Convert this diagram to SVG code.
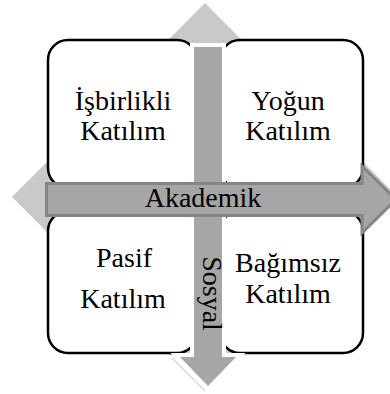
<svg xmlns="http://www.w3.org/2000/svg" width="390" height="394" viewBox="0 0 390 394">
  <style>
    .box { fill: #ffffff; stroke: #000000; stroke-width: 2.5; }
    .lbl { font-family: "Liberation Serif", "Times New Roman", serif; font-size: 28px; fill: #000000; text-anchor: middle; }
    .arrow { fill: #a6a6a6; }
  </style>

  <!-- background diamond -->
  <g id="background">
    <polygon points="205,3 398,197 240,355 170,355 12,197" fill="#c9c9c9"/>
    <line x1="172" y1="358" x2="205" y2="391" stroke="#d6d6d6" stroke-width="1.2"/>
  </g>

  <!-- quadrants -->
  <g id="node-isbirlikli">
    <rect class="box" x="48" y="40" width="149" height="148" rx="20" ry="20"/>
    <text class="lbl" x="123" y="110">İşbirlikli</text>
    <text class="lbl" x="123" y="140">Katılım</text>
  </g>
  <g id="node-yogun">
    <rect class="box" x="220" y="40" width="143" height="148" rx="20" ry="20"/>
    <text class="lbl" x="288" y="110">Yoğun</text>
    <text class="lbl" x="288" y="140">Katılım</text>
  </g>
  <g id="node-pasif">
    <rect class="box" x="48" y="211" width="149" height="142" rx="20" ry="20"/>
    <text class="lbl" x="124" y="267">Pasif</text>
    <text class="lbl" x="123" y="308">Katılım</text>
  </g>
  <g id="node-bagimsiz">
    <rect class="box" x="220" y="211" width="143" height="142" rx="20" ry="20"/>
    <text class="lbl" x="288" y="272">Bağımsız</text>
    <text class="lbl" x="288" y="303">Katılım</text>
  </g>

  <!-- axis arrows -->
  <g id="connectors">
    <g id="axis-sosyal">
      <path d="M194,47 H222 V357 H236 L208,386 L180,357 H194 Z" fill="none" stroke="#ffffff" stroke-width="8" stroke-linejoin="miter"/>
      <path class="arrow" d="M194,47 H222 V357 H236 L208,386 L180,357 H194 Z"/>
      <text class="lbl" transform="translate(203,293.5) rotate(90)" x="0" y="0">Sosyal</text>
    </g>
    <g id="axis-akademik">
      <path class="arrow" d="M46.5,183.5 H362 V166 L396,199.5 L362,233 V215.5 H46.5 Z" stroke="#858585" stroke-width="3" stroke-linejoin="miter"/>
      <text class="lbl" x="203" y="207">Akademik</text>
    </g>
  </g>
</svg>
